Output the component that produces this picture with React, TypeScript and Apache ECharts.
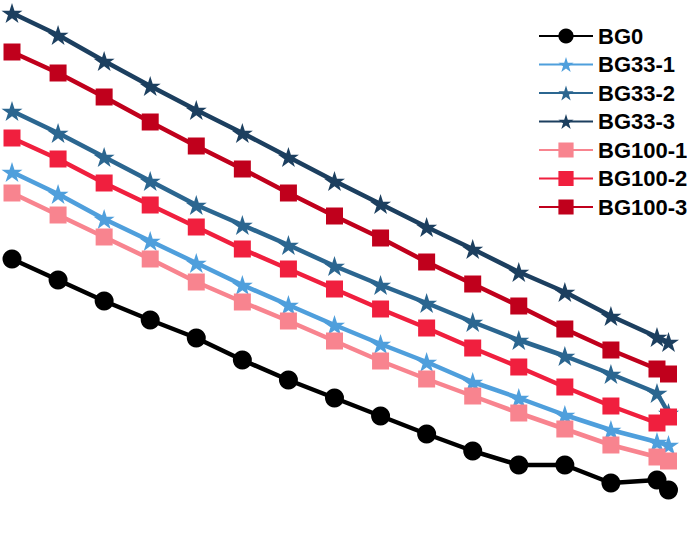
import { useEffect, useRef } from 'react';
import * as echarts from 'echarts';

// x positions of the samples (last one is a little past the regular step)
const xValues = [0, 1, 2, 3, 4, 5, 6, 7, 8, 9, 10, 11, 12, 13, 14, 14.25];

const seriesNames = ['BG0', 'BG33-1', 'BG33-2', 'BG33-3', 'BG100-1', 'BG100-2', 'BG100-3'];

const bg0 = [48.2, 44.0, 39.8, 36.0, 32.4, 28.0, 24.0, 20.4, 16.8, 13.2, 9.8, 7.0, 7.0, 3.4, 4.0, 2.0];
const bg33_1 = [65.6, 61.2, 56.2, 51.8, 47.4, 43.0, 39.0, 35.0, 31.2, 27.6, 23.6, 20.4, 17.0, 14.0, 11.6, 11.0];
const bg33_2 = [77.8, 73.4, 68.6, 63.8, 59.0, 55.0, 51.0, 46.8, 43.0, 39.4, 35.6, 32.0, 28.8, 25.2, 21.4, 17.4];
const bg33_3 = [97.4, 93.0, 87.8, 82.8, 78.0, 73.4, 68.6, 63.8, 59.2, 54.6, 50.2, 45.6, 41.6, 36.8, 32.6, 31.6];
const bg100_1 = [61.4, 57.0, 52.6, 48.2, 43.6, 39.6, 35.8, 31.8, 27.8, 24.2, 20.8, 17.4, 14.2, 11.0, 8.6, 7.8];
const bg100_2 = [72.4, 68.2, 63.4, 59.0, 54.6, 50.2, 46.2, 42.2, 38.2, 34.4, 30.4, 26.6, 22.6, 18.8, 15.4, 16.6];
const bg100_3 = [89.6, 85.4, 80.6, 75.6, 70.8, 66.2, 61.4, 56.8, 52.4, 47.6, 43.2, 38.8, 34.2, 30.0, 26.2, 25.2];

const seriesValues = [bg0, bg33_1, bg33_2, bg33_3, bg100_1, bg100_2, bg100_3];
const seriesColors = ['#000000', '#4f9fdc', '#2b6690', '#1c3f5f', '#f8848f', '#f01f3e', '#c0001c'];

const STAR =
  'path://M100 0 L122.45 69.1 L195.11 69.1 L136.33 111.8 L158.78 180.9 L100 138.2 L41.22 180.9 L63.67 111.8 L4.89 69.1 L77.55 69.1 Z';

const symbolFor = (name: string) => {
  if (name === 'BG0') return { symbol: 'circle', symbolSize: 19 };
  if (name.startsWith('BG33')) return { symbol: STAR, symbolSize: [21, 20] };
  return { symbol: 'rect', symbolSize: 17 };
};

export default function App() {
  const chartRef = useRef<HTMLDivElement>(null);

  useEffect(() => {
    if (!chartRef.current) return;
    const chart = echarts.init(chartRef.current, null, { renderer: 'svg' });

    chart.setOption({
      animation: false,
      backgroundColor: '#ffffff',
      grid: { left: 12, right: 18.5, top: 0, bottom: 40 },
      legend: {
        orient: 'vertical',
        left: 538,
        top: 25,
        padding: 0,
        itemWidth: 54,
        itemHeight: 19,
        itemGap: 6.5,
        data: seriesNames,
        textStyle: {
          fontFamily: 'Liberation Sans, Arial, sans-serif',
          fontWeight: 'bold',
          fontSize: 22,
          color: '#000'
        }
      },
      xAxis: { type: 'value', min: 0, max: 14.25, show: false },
      yAxis: { type: 'value', min: 0, max: 100, show: false },
      series: seriesNames.map((name, i) => ({
        name,
        type: 'line',
        clip: false,
        ...symbolFor(name),
        data: xValues.map((x, j) => [x, seriesValues[i][j]]),
        lineStyle: { width: 4.5, color: seriesColors[i] },
        itemStyle: { color: seriesColors[i] }
      }))
    });

    return () => {
      chart.dispose();
    };
  }, []);

  return (
    <div
      ref={chartRef}
      style={{ position: 'fixed', left: 0, top: 0, width: '687px', height: '540px' }}
    />
  );
}
